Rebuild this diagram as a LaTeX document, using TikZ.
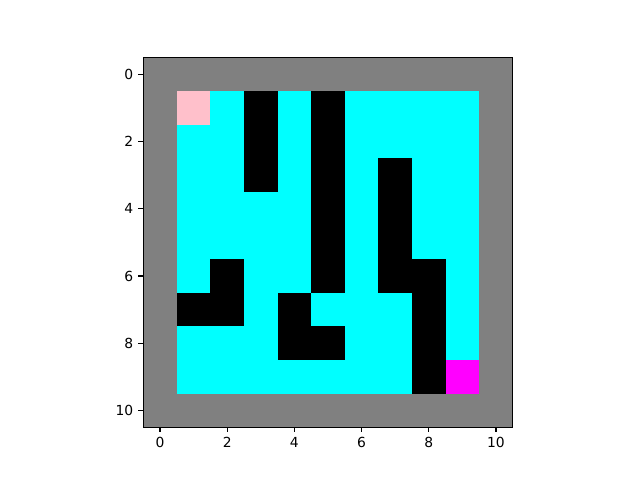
\documentclass[tikz,border=0pt]{standalone}
\usepackage{fontspec}
\setmainfont{DejaVu Sans}
\definecolor{gridgray}{HTML}{808080}
\definecolor{cellcyan}{HTML}{00FFFF}
\definecolor{cellpink}{HTML}{FFC0CB}
\definecolor{cellmag}{HTML}{FF00FF}
\begin{document}
\begin{tikzpicture}[x=0.75pt,y=-0.75pt,
  ticklabel/.style={font=\fontsize{10.4}{12}\selectfont, inner sep=0pt},
  tickline/.style={line width=0.83pt}]
\useasboundingbox (0,0) rectangle (640,480);
\fill[white] (0,0) rectangle (640,480);
\begin{scope}[shift={(143.2,57.6)}, x=25.2pt, y=-25.2pt]
  % base
  \fill[gridgray] (0,0) rectangle (11,11);
  \fill[cellcyan] (1,1) rectangle (10,10);
  \fill[cellpink] (1,1) rectangle (2,2);
  \fill[cellmag] (9,9) rectangle (10,10);
  % walls (col,row)
  \foreach \c/\r in {3/1,3/2,3/3,5/1,5/2,5/3,5/4,5/5,5/6,7/3,7/4,7/5,7/6,2/6,8/6,
                      1/7,2/7,4/7,8/7,4/8,5/8,8/8,8/9}
    \fill[black] (\c,\r) rectangle ++(1,1);
  \draw[line width=0.83pt] (0,0) rectangle (11,11);
  \foreach \v in {0,2,4,6,8,10} {
    \draw[tickline] (\v+0.5,11) -- ++(0,0.1446);
    \node[ticklabel, anchor=north] (xl\v) at (\v+0.5,11.29) {\v};
    \draw[tickline] (0,\v+0.5) -- ++(-0.1446,0);
    \node[ticklabel, anchor=east] (yl\v) at (-0.29,\v+0.5) {\v};
  }
\end{scope}
\end{tikzpicture}
\end{document}
